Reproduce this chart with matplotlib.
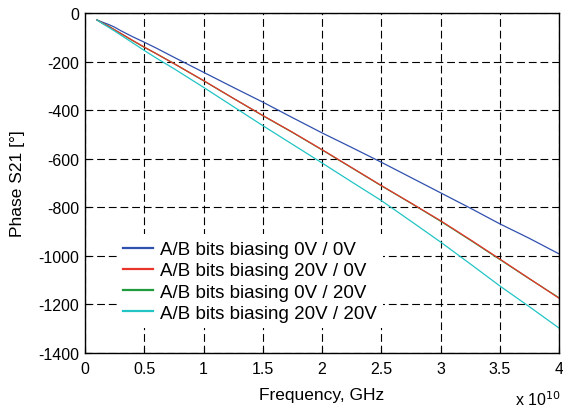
import matplotlib
matplotlib.use("Agg")
import matplotlib.pyplot as plt
import numpy as np

plt.rcParams['font.family'] = ['Liberation Sans', 'DejaVu Sans']
plt.rcParams['axes.unicode_minus'] = False

freq_ghz = [1, 1.5, 2, 2.5, 3, 4, 5, 6, 7.5, 10, 12.5, 15, 17.5, 20, 22.5,
            25, 27.5, 30, 32.5, 35, 37.5, 40]
phase_0_0 = [-27, -37, -46, -57, -71, -96, -119, -143, -181, -243, -305, -366,
             -430, -493, -553, -614, -677, -740, -803, -868, -928, -992]
phase_20_0 = [-27, -41, -54, -68, -82, -111, -139, -166, -207, -277, -350, -421,
              -490, -562, -636, -710, -782, -855, -933, -1013, -1094, -1175]
phase_0_20 = [-27, -41, -53, -68, -83, -112, -140, -166, -207, -278, -350, -422,
              -491, -563, -637, -711, -783, -857, -935, -1015, -1095, -1173]
phase_20_20 = [-27, -43, -58, -73, -89, -121, -153, -184, -228, -305, -384, -463,
               -540, -617, -695, -772, -857, -943, -1033, -1124, -1210, -1298]

labels = ['A/B bits biasing 0V / 0V', 'A/B bits biasing 20V / 0V',
          'A/B bits biasing 0V / 20V', 'A/B bits biasing 20V / 20V']
colors = ['#3050ae', '#e8342a', '#1f9a3c', '#22c4c4']

xticks = [0, 0.5, 1, 1.5, 2, 2.5, 3, 3.5, 4]
xtick_labels = ['0', '0.5', '1', '1.5', '2', '2.5', '3', '3.5', '4']
yticks = [0, -200, -400, -600, -800, -1000, -1200, -1400]

freq_hz = np.array(freq_ghz) * 1e9

fig = plt.figure(figsize=(5.63, 4.10), dpi=100)
ax = fig.add_axes([0.151, 0.137, 0.842, 0.828])

l1, = ax.plot(freq_hz, phase_0_0, color=colors[0], lw=0.9, label=labels[0])
l3, = ax.plot(freq_hz, phase_0_20, color=colors[2], lw=0.9, label=labels[2])
l2, = ax.plot(freq_hz, phase_20_0, color=colors[1], lw=0.9, label=labels[1])
l4, = ax.plot(freq_hz, phase_20_20, color=colors[3], lw=0.9, label=labels[3])

ax.set_xlim(0, 4e10)
ax.set_ylim(-1400, 0)
ax.set_xticks([v * 1e10 for v in xticks])
ax.set_xticklabels(xtick_labels)
ax.set_yticks(yticks)
ax.tick_params(direction='in', labelsize=11.5, length=4, width=0.8)
ax.tick_params(axis='x', pad=6)
ax.tick_params(axis='y', pad=4)
ax.grid(True, color='black', linestyle=(0, (7, 3.5)), linewidth=0.8)
for s in ax.spines.values():
    s.set_linewidth(1.0)

ax.set_xlabel('Frequency, GHz', fontsize=12.5, labelpad=8)
ax.set_ylabel('Phase S21 [°]', fontsize=12.5, labelpad=10)
ax.text(1.003, -0.135, r'x 10$^{10}$', transform=ax.transAxes, ha='right', va='center',
        fontsize=11.5)

leg = ax.legend(handles=[l1, l2, l3, l4], loc='lower left',
                bbox_to_anchor=(0.067, 0.072), borderaxespad=0, fontsize=13.5,
                frameon=True, facecolor='white', edgecolor='none', framealpha=1,
                handlelength=1.56, handletextpad=0.38, labelspacing=0.22,
                borderpad=0.35, fancybox=False)
for h in leg.get_lines():
    h.set_linewidth(1.6)

fig.savefig('out.png', dpi=100)
